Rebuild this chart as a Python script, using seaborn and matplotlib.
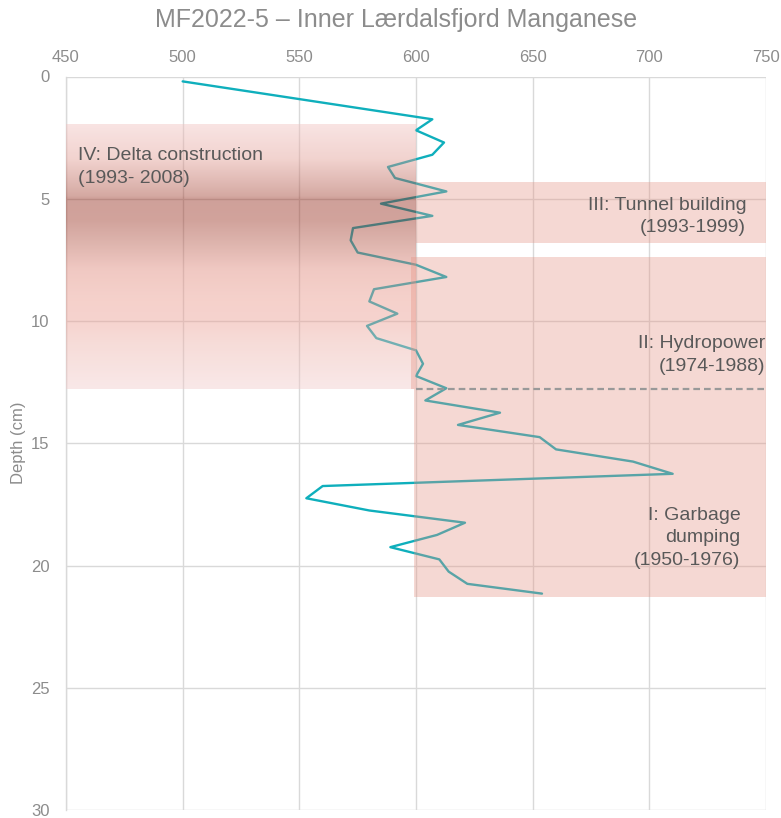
import numpy as np
import pandas as pd
import matplotlib
matplotlib.use("Agg")
import matplotlib.pyplot as plt
from matplotlib import font_manager
from matplotlib.colors import to_rgb
import seaborn as sns

# Manganese profile, core MF2022-5
depth_cm = [0.2, 1.75, 2.2, 2.7, 3.2, 3.7, 4.15, 4.7, 5.2, 5.7, 6.2, 6.7, 7.2,
            7.7, 8.2, 8.7, 9.2, 9.7, 10.2, 10.7, 11.2, 11.75, 12.25, 12.75,
            13.25, 13.75, 14.25, 14.75, 15.25, 15.75, 16.25, 16.75, 17.25,
            17.75, 18.25, 18.75, 19.25, 19.75, 20.25, 20.75, 21.15]
manganese = [500, 607, 600, 612, 607, 588, 591, 613, 585, 607, 573, 572, 575,
             600, 613, 582, 580, 592, 579, 583, 600, 603, 600, 613,
             604, 636, 618, 653, 660, 693, 710, 560, 553, 580, 621, 609,
             589, 610, 614, 622, 654]

x_ticks = [450, 500, 550, 600, 650, 700, 750]
y_ticks = [0, 5, 10, 15, 20, 25, 30]

# Historical phases: (label, x from, x to, depth top, depth bottom)
phase_iv = ("IV: Delta construction\n(1993- 2008)", 450, 600, 2.0, 12.8)
phase_boxes = [
    (600, 750, 4.3, 6.8),     # III: Tunnel building
    (598, 750, 7.4, 12.8),    # II: Hydropower
    (599, 750, 12.8, 21.3),   # I: Garbage dumping
]
phase_labels = [
    ("III: Tunnel building\n(1993-1999)", 741.5, 5.73),
    ("II: Hydropower\n(1974-1988)", 749.5, 11.39),
    ("I: Garbage\ndumping\n(1950-1976)", 739, 18.87),
]
boundary_depth = 12.8

# Shade profile of the delta-construction band (depth, colour seen over white)
iv_stops_depth = [2.0, 3.4, 4.5, 4.93, 5.0, 5.9, 6.8, 7.9, 9.0, 10.0, 10.9, 12.8]
iv_stops_color = ["#F9E4E3", "#F2D3CF", "#DDB5AF", "#D4A8A1", "#CFA099",
                  "#D1A29B", "#DDB3AC", "#F0C8C2", "#F5D0CA", "#F6D3CE",
                  "#F7DCD8", "#F9E8E8"]

sns.set_style("white")
avail = {f.name for f in font_manager.fontManager.ttflist}
base_font = "Liberation Sans" if "Liberation Sans" in avail else "DejaVu Sans"
plt.rcParams["font.family"] = [base_font, "DejaVu Sans"]

fig = plt.figure(figsize=(7.81, 8.18), dpi=100)
ax = fig.add_axes([66 / 781, 1 - 810 / 818, 700 / 781, (810 - 76.5) / 818])

df = pd.DataFrame({"depth": depth_cm, "Mn": manganese})
sns.lineplot(data=df, x="Mn", y="depth", sort=False, estimator=None,
             orient="y", color="#0FAFBC", linewidth=1.7, ax=ax, zorder=2)


def over_white(color, alpha):
    rgb = np.array(to_rgb(color))
    return np.clip((rgb - (1 - alpha)) / alpha, 0, 1)


# Gradient band for phase IV
iv_alpha = 0.45
rows = 400
dd = np.linspace(phase_iv[3], phase_iv[4], rows)
stops = np.array([to_rgb(c) for c in iv_stops_color])
img = np.zeros((rows, 1, 4))
for ch in range(3):
    seen = np.interp(dd, iv_stops_depth, stops[:, ch])
    img[:, 0, ch] = np.clip((seen - (1 - iv_alpha)) / iv_alpha, 0, 1)
img[:, 0, 3] = iv_alpha
ax.imshow(img, extent=[phase_iv[1], phase_iv[2], phase_iv[4], phase_iv[3]],
          aspect="auto", interpolation="bilinear", zorder=3)

box_alpha = 0.35
box_rgb = over_white("#F6D8D3", box_alpha)
for x0, x1, d0, d1 in phase_boxes:
    ax.fill_between([x0, x1], d0, d1, color=box_rgb, alpha=box_alpha,
                    linewidth=0, zorder=3)

ax.plot([600, 750], [boundary_depth, boundary_depth], color="#999999",
        linewidth=1.6, linestyle=(0, (3, 1.8)), zorder=4)

text_color = "#595959"
ax.text(phase_iv[1] + 5, 3.70, phase_iv[0], ha="left", va="center",
        fontsize=14, color=text_color, linespacing=1.4, zorder=5)
for label, xr, yc in phase_labels:
    ax.text(xr, yc, label, ha="right", va="center", multialignment="right",
            fontsize=14, color=text_color, linespacing=1.4, zorder=5)

ax.set_xlim(450, 750)
ax.set_ylim(30, 0)
ax.set_xticks(x_ticks)
ax.set_yticks(y_ticks)
ax.xaxis.tick_top()
ax.tick_params(axis="both", length=0, labelsize=12, labelcolor="#8C8C8C")
ax.tick_params(axis="x", pad=8)
ax.tick_params(axis="y", pad=12)
ax.set_xlabel("")
ax.set_ylabel("")
ax.grid(True, color="#D9D9D9", linewidth=1.0)
ax.set_axisbelow(True)
for side in ["right", "bottom", "top"]:
    ax.spines[side].set_visible(False)
ax.spines["left"].set_color("#D9D9D9")
ax.spines["left"].set_linewidth(1.0)

fig.text(19 / 781, 1 - 443 / 818, "Depth (cm)", rotation=90, ha="center",
         va="center", fontsize=12, color="#8C8C8C")
fig.text(396 / 781, 1 - 20 / 818, "MF2022-5 – Inner Lærdalsfjord Manganese",
         ha="center", va="center", fontsize=18, color="#8C8C8C")

fig.savefig("out.png", dpi=100)
